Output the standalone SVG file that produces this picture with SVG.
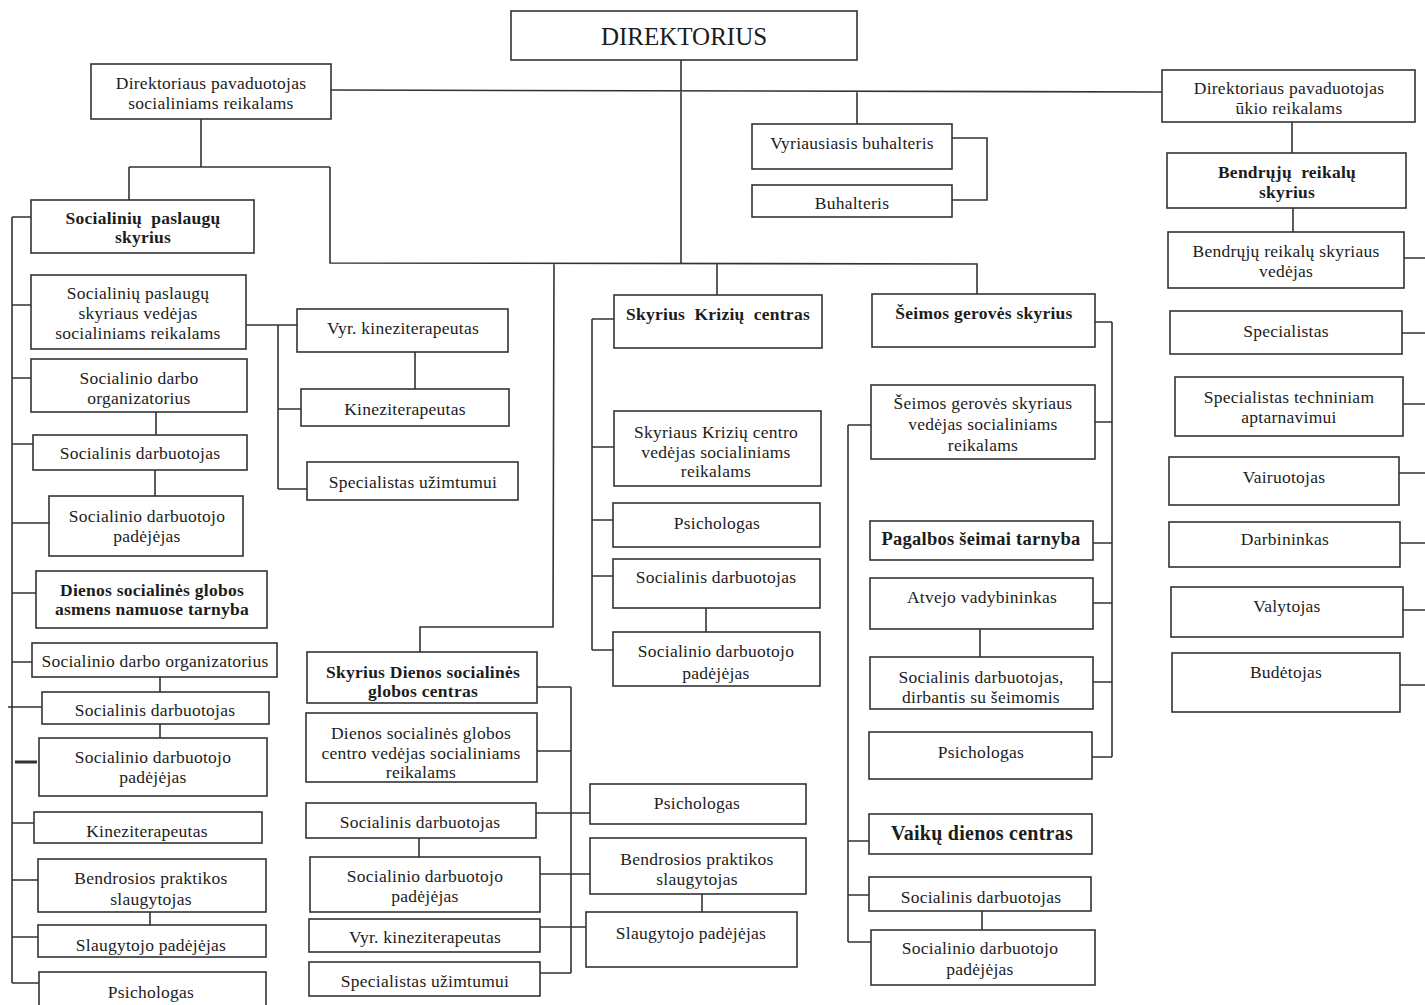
<svg xmlns="http://www.w3.org/2000/svg" width="1425" height="1005" viewBox="0 0 1425 1005">
<style>
.bx{fill:#fff;stroke:#333;stroke-width:1.6}
.t{font-family:"Liberation Serif","Times New Roman",serif;font-size:17.5px;letter-spacing:0.25px;text-anchor:middle;fill:#1c1c1c}
.b{font-weight:bold}
#connectors{fill:none;stroke:#333;stroke-width:1.6}
</style>
<rect width="1425" height="1005" fill="#fff"/>
<g id="connectors">
<path d="M681,60V263M331,90L1162,92M857,91V124M952,138H987V200H952"/>
<path d="M201,119V167M129,167H330M129,167V200M330,167V263L977,264V294M717,263V295M554,263L553,627H420V652"/>
<path d="M1292,122V153M1293,208V232"/>
<path d="M1404,258H1425M1402,333H1425M1403,404H1425M1399,473H1425M1400,543H1425M1402,610H1425M1400,685H1425"/>
<path d="M12,217V983M12,217H31M12,305H31M12,378H31M12,444H33M12,523H49M12,593H36M12,662H32M8,707H42M12,823H34M12,880H38M12,937H38M12,983H39"/>
<path d="M15,762H37" stroke-width="3"/>
<path d="M156,412V435M155,470V496M160,677V692M160,724V738M150,912V925"/>
<path d="M246,325H297M278,325V489M278,409H301M278,489H307M415,352V389"/>
<path d="M592,319V650M592,319H614M592,447H614M592,520H613M592,576H613M592,650H613M706,608V632"/>
<path d="M1112,322V757M1095,322H1112M1095,422H1112M1093,543H1112M1093,603H1112M1093,682H1112M1092,757H1112"/>
<path d="M848,425V942M848,425H871M848,841H869M848,895H869M848,942H871M980,629V657M982,911V930"/>
<path d="M571,687V973M537,687H571M537,751H571M536,813H590M540,874H590M540,927H586M540,973H571M419,838V857M702,894V912"/>
</g>
<g id="direktorius"><rect class="bx" x="511" y="11" width="346" height="49"/><text class="t" x="684" y="45" style="font-size:25px;letter-spacing:0">DIREKTORIUS</text></g>
<g id="dir-soc"><rect class="bx" x="91" y="64" width="240" height="55"/><text class="t" x="211" y="89">Direktoriaus pavaduotojas</text><text class="t" x="211" y="109">socialiniams reikalams</text></g>
<g id="dir-ukio"><rect class="bx" x="1162" y="70" width="253" height="52"/><text class="t" x="1289" y="94">Direktoriaus pavaduotojas</text><text class="t" x="1289" y="114">ūkio reikalams</text></g>
<g id="vyr-buh"><rect class="bx" x="752" y="124" width="200" height="45"/><text class="t" x="852" y="149">Vyriausiasis buhalteris</text></g>
<g id="buh"><rect class="bx" x="752" y="185" width="200" height="32"/><text class="t" x="852" y="209">Buhalteris</text></g>
<g id="bendruju-skyrius"><rect class="bx" x="1167" y="153" width="239" height="55"/><text class="t b" x="1287" y="178" xml:space="preserve">Bendrųjų  reikalų</text><text class="t b" x="1287" y="198">skyrius</text></g>
<g id="bendruju-vedejas"><rect class="bx" x="1168" y="232" width="236" height="56"/><text class="t" x="1286" y="257">Bendrųjų reikalų skyriaus</text><text class="t" x="1286" y="277">vedėjas</text></g>
<g id="specialistas"><rect class="bx" x="1170" y="311" width="232" height="43"/><text class="t" x="1286" y="337">Specialistas</text></g>
<g id="spec-tech"><rect class="bx" x="1175" y="377" width="228" height="59"/><text class="t" x="1289" y="403">Specialistas techniniam</text><text class="t" x="1289" y="423">aptarnavimui</text></g>
<g id="vairuotojas"><rect class="bx" x="1169" y="457" width="230" height="48"/><text class="t" x="1284" y="483">Vairuotojas</text></g>
<g id="darbininkas"><rect class="bx" x="1169" y="522" width="231" height="45"/><text class="t" x="1285" y="545">Darbininkas</text></g>
<g id="valytojas"><rect class="bx" x="1171" y="587" width="232" height="50"/><text class="t" x="1287" y="612">Valytojas</text></g>
<g id="budetojas"><rect class="bx" x="1172" y="653" width="228" height="59"/><text class="t" x="1286" y="678">Budėtojas</text></g>
<g id="soc-pasl-skyrius"><rect class="bx" x="31" y="200" width="223" height="53"/><text class="t b" x="143" y="224" xml:space="preserve">Socialinių  paslaugų</text><text class="t b" x="143" y="243">skyrius</text></g>
<g id="soc-pasl-vedejas"><rect class="bx" x="31" y="275" width="215" height="74"/><text class="t" x="138" y="299">Socialinių paslaugų</text><text class="t" x="138" y="319">skyriaus vedėjas</text><text class="t" x="138" y="339">socialiniams reikalams</text></g>
<g id="vyr-kin-1"><rect class="bx" x="297" y="309" width="211" height="43"/><text class="t" x="403" y="334">Vyr. kineziterapeutas</text></g>
<g id="kin-1"><rect class="bx" x="301" y="389" width="208" height="37"/><text class="t" x="405" y="415">Kineziterapeutas</text></g>
<g id="spec-uzimt-1"><rect class="bx" x="307" y="462" width="211" height="38"/><text class="t" x="413" y="488">Specialistas užimtumui</text></g>
<g id="soc-darbo-org-1"><rect class="bx" x="31" y="359" width="216" height="53"/><text class="t" x="139" y="384">Socialinio darbo</text><text class="t" x="139" y="404">organizatorius</text></g>
<g id="soc-darb-1"><rect class="bx" x="33" y="435" width="214" height="35"/><text class="t" x="140" y="459">Socialinis darbuotojas</text></g>
<g id="soc-darb-pad-1"><rect class="bx" x="49" y="496" width="194" height="60"/><text class="t" x="147" y="522">Socialinio darbuotojo</text><text class="t" x="147" y="542">padėjėjas</text></g>
<g id="dienos-tarnyba"><rect class="bx" x="36" y="571" width="231" height="57"/><text class="t b" x="152" y="596">Dienos socialinės globos</text><text class="t b" x="152" y="615">asmens namuose tarnyba</text></g>
<g id="soc-darbo-org-2"><rect class="bx" x="32" y="643" width="245" height="34"/><text class="t" x="155" y="667">Socialinio darbo organizatorius</text></g>
<g id="soc-darb-2"><rect class="bx" x="42" y="692" width="227" height="32"/><text class="t" x="155" y="716">Socialinis darbuotojas</text></g>
<g id="soc-darb-pad-2"><rect class="bx" x="39" y="738" width="228" height="58"/><text class="t" x="153" y="763">Socialinio darbuotojo</text><text class="t" x="153" y="783">padėjėjas</text></g>
<g id="kin-2"><rect class="bx" x="34" y="812" width="228" height="31"/><text class="t" x="147" y="837">Kineziterapeutas</text></g>
<g id="bendrosios-1"><rect class="bx" x="38" y="859" width="228" height="53"/><text class="t" x="151" y="884">Bendrosios praktikos</text><text class="t" x="151" y="905">slaugytojas</text></g>
<g id="slaug-pad-1"><rect class="bx" x="38" y="925" width="228" height="32"/><text class="t" x="151" y="951">Slaugytojo padėjėjas</text></g>
<g id="psich-1"><rect class="bx" x="39" y="972" width="227" height="40"/><text class="t" x="151" y="998">Psichologas</text></g>
<g id="kriziu-centras"><rect class="bx" x="614" y="295" width="208" height="53"/><text class="t b" x="718" y="320" xml:space="preserve">Skyrius  Krizių  centras</text></g>
<g id="kriziu-vedejas"><rect class="bx" x="614" y="411" width="207" height="75"/><text class="t" x="716" y="438">Skyriaus Krizių centro</text><text class="t" x="716" y="458">vedėjas socialiniams</text><text class="t" x="716" y="477">reikalams</text></g>
<g id="psich-2"><rect class="bx" x="613" y="503" width="207" height="44"/><text class="t" x="717" y="529">Psichologas</text></g>
<g id="soc-darb-3"><rect class="bx" x="613" y="559" width="207" height="49"/><text class="t" x="716" y="583">Socialinis darbuotojas</text></g>
<g id="soc-darb-pad-3"><rect class="bx" x="613" y="632" width="207" height="54"/><text class="t" x="716" y="657">Socialinio darbuotojo</text><text class="t" x="716" y="679">padėjėjas</text></g>
<g id="seimos-skyrius"><rect class="bx" x="872" y="294" width="223" height="53"/><text class="t b" x="984" y="319">Šeimos gerovės skyrius</text></g>
<g id="seimos-vedejas"><rect class="bx" x="871" y="385" width="224" height="74"/><text class="t" x="983" y="409">Šeimos gerovės skyriaus</text><text class="t" x="983" y="430">vedėjas socialiniams</text><text class="t" x="983" y="451">reikalams</text></g>
<g id="pagalbos"><rect class="bx" x="870" y="521" width="223" height="39"/><text class="t b" x="981" y="545" style="font-size:18.5px">Pagalbos šeimai tarnyba</text></g>
<g id="atvejo"><rect class="bx" x="870" y="578" width="223" height="51"/><text class="t" x="982" y="603">Atvejo vadybininkas</text></g>
<g id="soc-darb-seim"><rect class="bx" x="870" y="657" width="223" height="52"/><text class="t" x="981" y="683">Socialinis darbuotojas,</text><text class="t" x="981" y="703">dirbantis su šeimomis</text></g>
<g id="psich-3"><rect class="bx" x="869" y="732" width="223" height="47"/><text class="t" x="981" y="758">Psichologas</text></g>
<g id="vaiku-centras"><rect class="bx" x="869" y="814" width="223" height="40"/><text class="t b" x="982" y="840" style="font-size:20px">Vaikų dienos centras</text></g>
<g id="soc-darb-4"><rect class="bx" x="869" y="877" width="222" height="34"/><text class="t" x="981" y="903">Socialinis darbuotojas</text></g>
<g id="soc-darb-pad-4"><rect class="bx" x="871" y="930" width="224" height="55"/><text class="t" x="980" y="954">Socialinio darbuotojo</text><text class="t" x="980" y="975">padėjėjas</text></g>
<g id="dienos-centras"><rect class="bx" x="307" y="652" width="230" height="51"/><text class="t b" x="423" y="678">Skyrius Dienos socialinės</text><text class="t b" x="423" y="697">globos centras</text></g>
<g id="dienos-vedejas"><rect class="bx" x="306" y="713" width="231" height="69"/><text class="t" x="421" y="739">Dienos socialinės globos</text><text class="t" x="421" y="759">centro vedėjas socialiniams</text><text class="t" x="421" y="778">reikalams</text></g>
<g id="soc-darb-5"><rect class="bx" x="306" y="803" width="230" height="35"/><text class="t" x="420" y="828">Socialinis darbuotojas</text></g>
<g id="soc-darb-pad-5"><rect class="bx" x="310" y="857" width="230" height="55"/><text class="t" x="425" y="882">Socialinio darbuotojo</text><text class="t" x="425" y="902">padėjėjas</text></g>
<g id="vyr-kin-2"><rect class="bx" x="309" y="919" width="231" height="33"/><text class="t" x="425" y="943">Vyr. kineziterapeutas</text></g>
<g id="spec-uzimt-2"><rect class="bx" x="309" y="962" width="231" height="34"/><text class="t" x="425" y="987">Specialistas užimtumui</text></g>
<g id="psich-4"><rect class="bx" x="590" y="784" width="216" height="40"/><text class="t" x="697" y="809">Psichologas</text></g>
<g id="bendrosios-2"><rect class="bx" x="590" y="838" width="216" height="56"/><text class="t" x="697" y="865">Bendrosios praktikos</text><text class="t" x="697" y="885">slaugytojas</text></g>
<g id="slaug-pad-2"><rect class="bx" x="586" y="912" width="211" height="55"/><text class="t" x="691" y="939">Slaugytojo padėjėjas</text></g>
</svg>
